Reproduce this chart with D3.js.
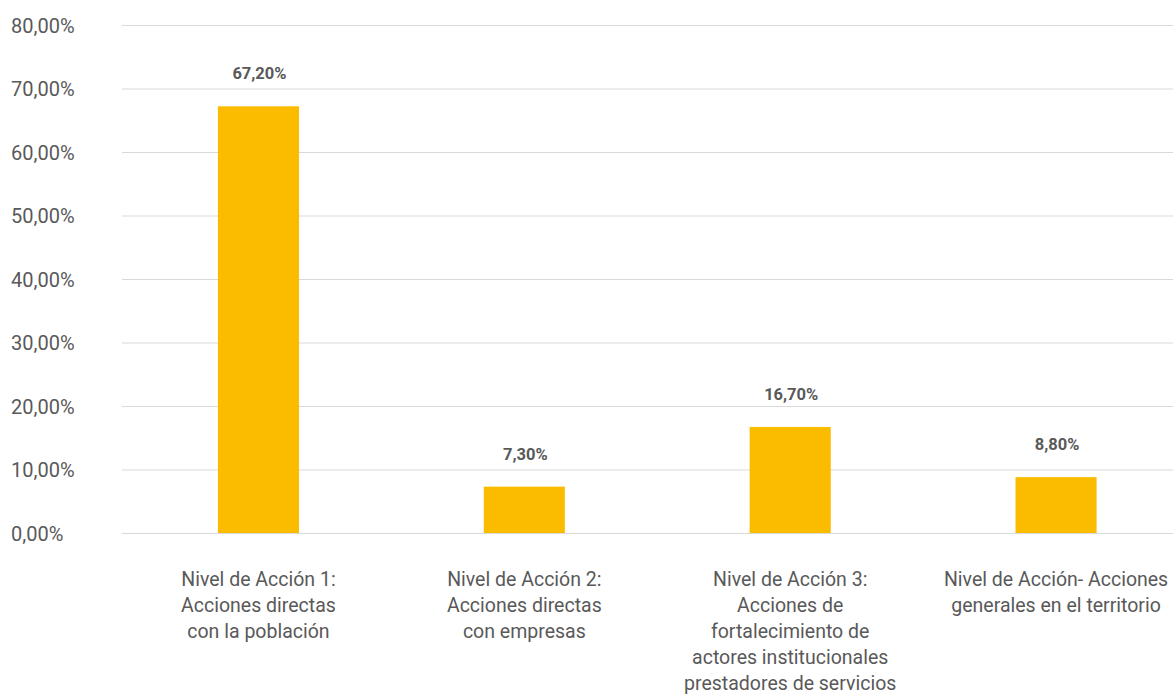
<!DOCTYPE html>
<html>
<head>
<meta charset="utf-8">
<script src="https://cdn.jsdelivr.net/npm/d3@7"></script>
<style>
  body { margin: 0; background: #fff; }
  text { font-family: Roboto, "DejaVu Sans", sans-serif; fill: #595959; }
</style>
</head>
<body>
<script>
// data
var categories = ["N1", "N2", "N3", "N4"];
var categoryLines = [
    ["Nivel de Acción 1:", "Acciones directas", "con la población"],
    ["Nivel de Acción 2:", "Acciones directas", "con empresas"],
    ["Nivel de Acción 3:", "Acciones de", "fortalecimiento de", "actores institucionales", "prestadores de servicios"],
    ["Nivel de Acción- Acciones", "generales en el territorio"]
];
var values = [0.672, 0.073, 0.167, 0.088];
var yTicks = [0, 0.1, 0.2, 0.3, 0.4, 0.5, 0.6, 0.7, 0.8];

//Width and height
var totalW = 1173, totalH = 698;
var margin = {top: 25, left: 122};
var zeroY = 533;

var locale = d3.formatLocale({decimal: ",", thousands: ".", grouping: [3], currency: ["", "€"]});
var pct = locale.format(".2%");

var svg = d3.select("body").append("svg")
    .attr("width", totalW)
    .attr("height", totalH);

var x = d3.scaleBand()
    .domain(categories)
    .range([125.5, 1189])
    .paddingInner(0.695)
    .paddingOuter(0.3475);

var y = d3.scaleLinear()
    .domain([0, 0.8])
    .range([zeroY, margin.top]);

// gridlines + tick labels
var yAxis = svg.append("g")
    .attr("transform", "translate(" + margin.left + ",0)")
    .call(d3.axisLeft(y).tickValues(yTicks).tickFormat(pct).tickSize(-(totalW - margin.left)));

yAxis.select(".domain").remove();
yAxis.selectAll(".tick line").attr("stroke", "#d9d9d9").attr("stroke-width", 1);
yAxis.selectAll(".tick text")
    .attr("x", 11 - margin.left)
    .attr("dy", "0.36em")
    .attr("text-anchor", "start")
    .style("font-size", "20px")
    .attr("fill", "#595959");

// bars
svg.selectAll("rect.bar")
    .data(values)
    .enter()
    .append("rect")
    .attr("class", "bar")
    .attr("x", function(d, i) { return x(categories[i]); })
    .attr("width", x.bandwidth())
    .attr("y", function(d) { return y(d); })
    .attr("height", function(d) { return y(0) - y(d); })
    .attr("fill", "#FBBC00");

// value labels
svg.selectAll("text.val")
    .data(values)
    .enter()
    .append("text")
    .attr("class", "val")
    .attr("x", function(d, i) { return x(categories[i]) + x.bandwidth() / 2 + 1; })
    .attr("y", function(d) { return y(d) - 27; })
    .attr("text-anchor", "middle")
    .style("font-size", "16.5px")
    .style("font-weight", "bold")
    .text(function(d) { return pct(d); });

// category labels
var cat = svg.selectAll("text.cat")
    .data(categoryLines)
    .enter()
    .append("text")
    .attr("class", "cat")
    .attr("text-anchor", "middle")
    .attr("transform", function(d, i) {
        return "translate(" + (x(categories[i]) + x.bandwidth() / 2) + "," + 586 + ")";
    })
    .style("font-size", "19.5px");

cat.selectAll("tspan")
    .data(function(d) { return d; })
    .enter()
    .append("tspan")
    .attr("x", 0)
    .attr("y", function(d, i) { return i * 26; })
    .text(function(d) { return d; });
</script>
</body>
</html>
